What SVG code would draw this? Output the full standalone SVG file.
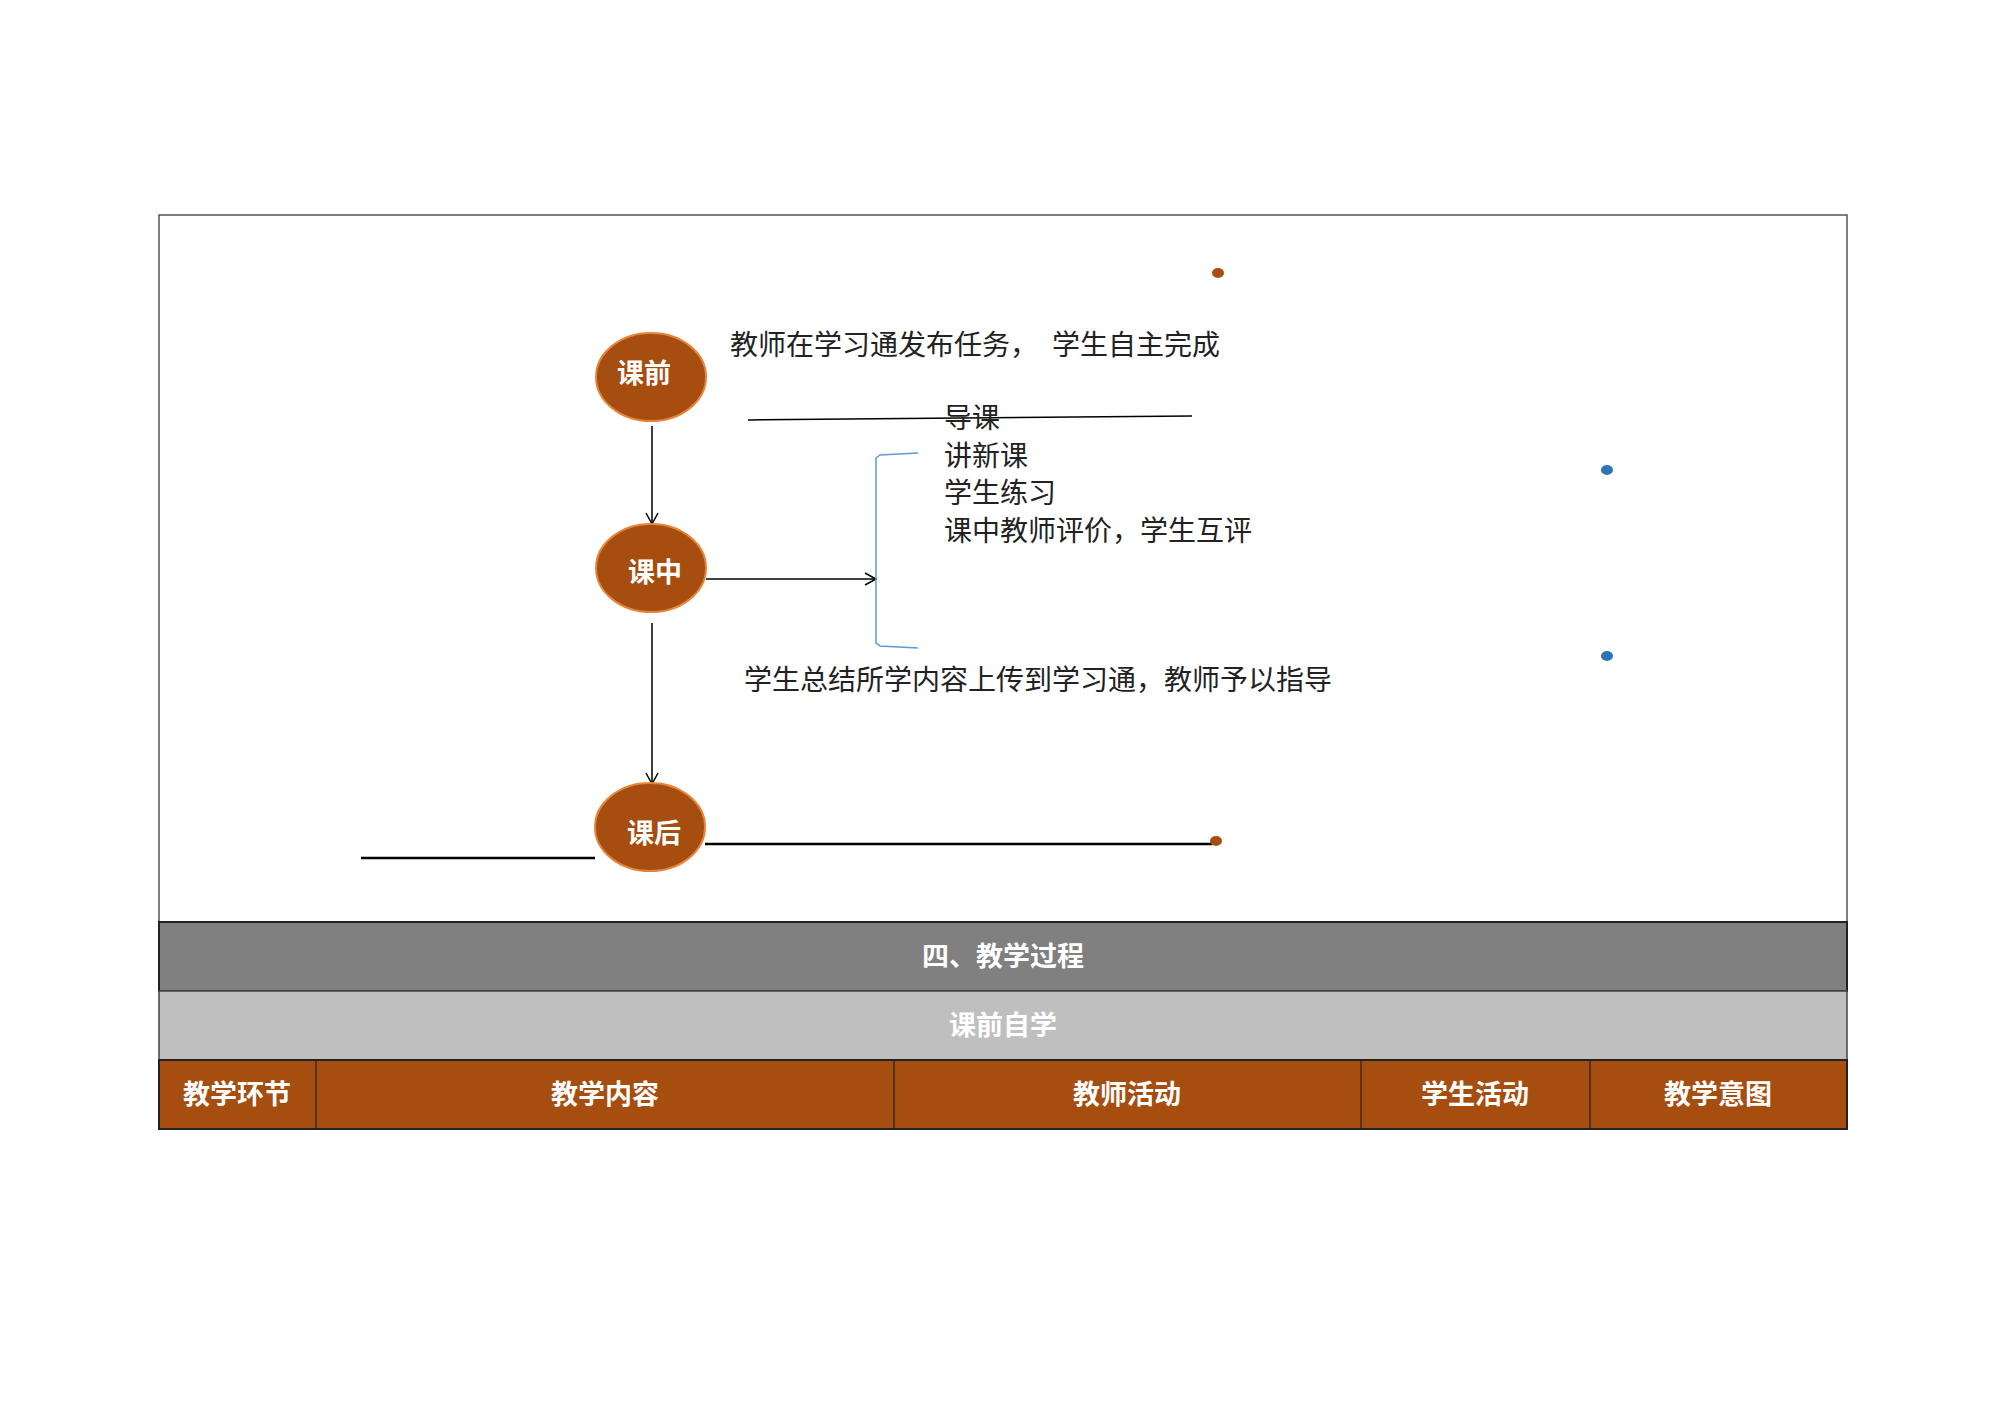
<svg xmlns="http://www.w3.org/2000/svg" width="1995" height="1411" viewBox="0 0 1995 1411">
<style>
.t{font-family:"Liberation Serif","Noto Sans CJK SC",serif;font-size:28px;fill:#222}
.w{font-family:"Noto Sans CJK SC",sans-serif;font-size:27px;font-weight:bold;fill:#fff;text-anchor:middle}
.n{fill:#a64d10;stroke:#e8843a;stroke-width:2}
.c{stroke:#000;stroke-width:1.5;fill:none}
</style>
<defs><marker id="a" markerWidth="14" markerHeight="14" refX="12" refY="7" orient="auto" markerUnits="userSpaceOnUse"><path d="M1,1 L12,7 L1,13" fill="none" stroke="#000" stroke-width="1.5"/></marker></defs>
<rect x="0" y="0" width="1995" height="1411" fill="#fff"/>
<rect x="159" y="215" width="1688" height="707" fill="#fff" stroke="#555" stroke-width="1.5"/>
<g id="table">
<rect x="159" y="922" width="1688" height="69" fill="#808080" stroke="#222" stroke-width="2"/>
<text class="w" x="1003" y="966">四、教学过程</text>
<rect x="159" y="991" width="1688" height="69" fill="#bfbfbf" stroke="#444" stroke-width="1.5"/>
<text class="w" x="1003" y="1035">课前自学</text>
<rect x="159" y="1060" width="1688" height="69" fill="#a64d10" stroke="#222" stroke-width="2"/>
<g stroke="#222" stroke-width="1.2"><line x1="316" y1="1060" x2="316" y2="1129"/><line x1="894" y1="1060" x2="894" y2="1129"/><line x1="1361" y1="1060" x2="1361" y2="1129"/><line x1="1590" y1="1060" x2="1590" y2="1129"/></g>
<text class="w" x="237" y="1104">教学环节</text>
<text class="w" x="605" y="1104">教学内容</text>
<text class="w" x="1127" y="1104">教师活动</text>
<text class="w" x="1475" y="1104">学生活动</text>
<text class="w" x="1718" y="1104">教学意图</text>
</g>
<g id="connectors">
<line class="c" x1="652" y1="426" x2="652" y2="524" marker-end="url(#a)"/>
<line class="c" x1="652" y1="623" x2="652" y2="784" marker-end="url(#a)"/>
<line class="c" x1="706" y1="579" x2="876" y2="579" marker-end="url(#a)"/>
<path d="M918,453 L880,455 L876,458 L876,643 L880,646 L918,648" fill="none" stroke="#5b9bd5" stroke-width="1.5"/>
<line x1="748" y1="420" x2="1192" y2="416" stroke="#000" stroke-width="1.5"/>
<line x1="705" y1="844" x2="1212" y2="844" stroke="#000" stroke-width="2.5"/>
<line x1="361" y1="858" x2="595" y2="858" stroke="#000" stroke-width="2.5"/>
</g>
<ellipse cx="1216" cy="841" rx="6" ry="5" fill="#a64d10"/>
<ellipse cx="1218" cy="273" rx="6" ry="5" fill="#a64d10"/>
<ellipse cx="1607" cy="470" rx="6" ry="5" fill="#2e75b6"/>
<ellipse cx="1607" cy="656" rx="6" ry="5" fill="#2e75b6"/>
<g id="n1"><ellipse class="n" cx="651" cy="377" rx="55" ry="44"/><text class="w" x="644" y="383">课前</text></g>
<g id="n2"><ellipse class="n" cx="651" cy="568" rx="55" ry="44"/><text class="w" x="655" y="582">课中</text></g>
<g id="n3"><ellipse class="n" cx="650" cy="827" rx="55" ry="44"/><text class="w" x="654" y="843">课后</text></g>
<text class="t" x="730" y="355">教师在学习通发布任务，　学生自主完成</text>
<text class="t" x="944" y="428">导课</text>
<text class="t" x="944" y="466">讲新课</text>
<text class="t" x="944" y="503">学生练习</text>
<text class="t" x="944" y="541">课中教师评价，学生互评</text>
<text class="t" x="744" y="690">学生总结所学内容上传到学习通，教师予以指导</text>
</svg>
